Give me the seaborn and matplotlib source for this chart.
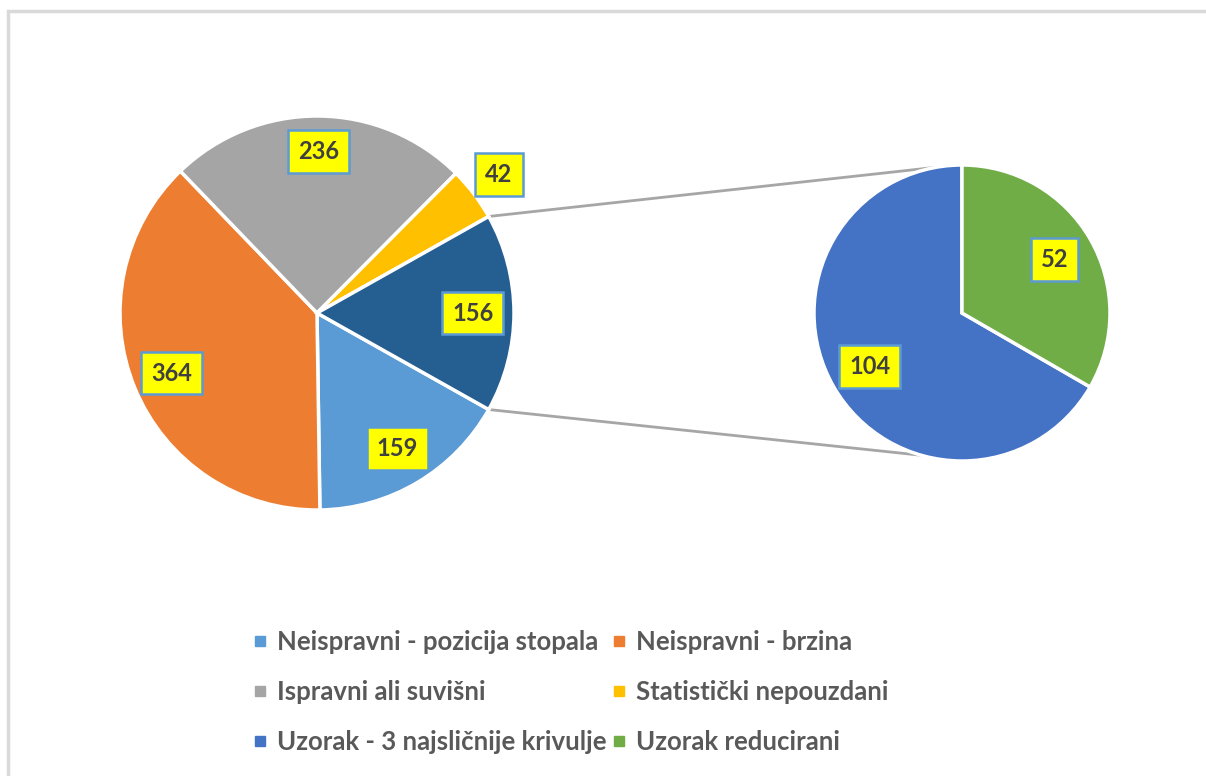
import numpy as np
import matplotlib
matplotlib.use('Agg')
import matplotlib.pyplot as plt
from matplotlib.lines import Line2D
import seaborn as sns

# main pie data (last slice = "other", broken out in the second pie)
main_labels = ['Neispravni - pozicija stopala', 'Neispravni - brzina',
               'Ispravni ali suvišni', 'Statistički nepouzdani']
main_values = [159, 364, 236, 42]
sub_labels = ['Uzorak - 3 najsličnije krivulje', 'Uzorak reducirani']
sub_values = [104, 52]

main_colors = ['#5B9BD5', '#ED7D31', '#A5A5A5', '#FFC000', '#255E91']
sub_colors = ['#4472C4', '#70AD47']

sns.set_theme(style='white')
plt.rcParams['font.family'] = ['Lato', 'DejaVu Sans']

W, H = 1206, 776
fig = plt.figure(figsize=(W / 100, H / 100), dpi=100)
ax = fig.add_axes([0, 0, 1, 1])

c1, r1 = (317, 463), 197
c2, r2 = (962, 463), 148

other = sum(sub_values)
vals1 = main_values + [other]
other_ang = other / sum(vals1) * 360
wedge_style = dict(edgecolor='white', linewidth=2.5)

w1, _ = ax.pie(vals1, colors=main_colors, center=c1, radius=r1,
               startangle=-other_ang / 2, counterclock=False,
               wedgeprops=wedge_style, frame=True)
w2, _ = ax.pie(sub_values, colors=sub_colors, center=c2, radius=r2,
               startangle=90, counterclock=True,
               wedgeprops=wedge_style, frame=True)
ax.set_xlim(0, W)
ax.set_ylim(0, H)
ax.set_aspect('equal')
ax.axis('off')

box = dict(boxstyle='square,pad=0.42', facecolor='#FFFF00', edgecolor='#5B9BD5', linewidth=1.8)


def put_labels(wedges, values, center, radius, dists):
    for w, v, d in zip(wedges, values, dists):
        a = np.deg2rad((w.theta1 + w.theta2) / 2)
        x = center[0] + d * radius * np.cos(a)
        y = center[1] + d * radius * np.sin(a)
        ax.text(x, y, str(v), ha='center', va='center', fontsize=17,
                fontweight='bold', color='#404040', bbox=box, zorder=5)


put_labels(w1, vals1, c1, r1, [0.80, 0.80, 0.82, 1.16, 0.79])
put_labels(w2, sub_values, c2, r2, [0.72, 0.72])

# connector lines from the "other" slice to the second pie
for a1, a2 in [(other_ang / 2, 100), (-other_ang / 2, 254)]:
    p1 = (c1[0] + r1 * np.cos(np.deg2rad(a1)), c1[1] + r1 * np.sin(np.deg2rad(a1)))
    p2 = (c2[0] + r2 * np.cos(np.deg2rad(a2)), c2[1] + r2 * np.sin(np.deg2rad(a2)))
    ax.plot([p1[0], p2[0]], [p1[1], p2[1]], color='#A6A6A6', linewidth=2, zorder=0)

# chart area border (top and left only are visible)
ax.plot([8, 8, W], [0, H - 10.5, H - 10.5], color='#D9D9D9', linewidth=2.5,
        clip_on=False, solid_joinstyle='miter')

# legend: row-wise order in 2 columns
names = main_labels + sub_labels
cols = main_colors[:4] + sub_colors
order = [0, 2, 4, 1, 3, 5]
handles = [Line2D([], [], marker='s', linestyle='none', markersize=7,
                  markerfacecolor=cols[i], markeredgecolor=cols[i]) for i in order]
fig.legend(handles, [names[i] for i in order], ncol=2, loc='upper left',
           bbox_to_anchor=(254 / W, 1 - 630 / H), frameon=False,
           prop=dict(size=18.5, weight='bold'), labelcolor='#595959',
           handlelength=0.45, handletextpad=0.45, columnspacing=0.25,
           labelspacing=1.02, borderaxespad=0, borderpad=0)

fig.savefig('out.png', dpi=100, facecolor='white')
